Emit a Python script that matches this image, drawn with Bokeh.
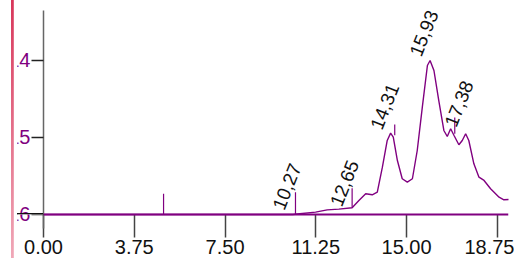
from bokeh.plotting import figure
from bokeh.models import Range1d, FixedTicker, Span, ColumnDataSource, InlineStyleSheet
from bokeh.core.properties import value
from bokeh.embed import file_html
from bokeh.resources import INLINE

# ---- data ----
x_ticks = [0, 3.75, 7.5, 11.25, 15, 18.75]
x_tick_labels = ["0.00", "3.75", "7.50", "11.25", "15.00", "18.75"]
y_ticks = [14, 15, 16]
y_tick_labels = ["14", "15", "16"]

rt = [0, 10.3, 10.48, 11.24, 11.72, 12.2, 12.75, 13.03, 13.31, 13.58, 13.79,
      14.0, 14.2, 14.34, 14.45, 14.62, 14.82, 15.03, 15.24, 15.44, 15.65,
      15.86, 15.97, 16.13, 16.33, 16.54, 16.68, 16.82, 16.96, 17.16, 17.3,
      17.44, 17.57, 17.78, 17.99, 18.2, 18.47, 18.82, 19.02, 19.23]
signal = [16.0, 16.0, 15.994, 15.97, 15.94, 15.93, 15.913, 15.818, 15.731, 15.744, 15.71,
          15.386, 15.039, 14.944, 14.996, 15.299, 15.536, 15.58, 15.536, 15.169, 14.606,
          14.065, 14.0, 14.13, 14.52, 14.909, 14.987, 14.887, 14.974, 15.095, 15.039,
          14.952, 15.039, 15.342, 15.516, 15.558, 15.666, 15.775, 15.809, 15.805]
baseline_level = 16.0

marker_rt = [4.96, 10.41, 12.75, 14.51, 16.99]
marker_top = [15.73, 15.71, 15.66, 14.83, 14.74]
marker_base = [16.0, 16.0, 15.91, 14.97, 14.95]

peak_labels = ["10,27", "12,65", "14,31", "15,93", "17,38"]
peak_rt = [10.27, 12.65, 14.31, 15.93, 17.38]
label_y = [15.925, 15.882, 14.886, 13.934, 14.85]

# ---- figure ----
W, H = 514, 258
css = InlineStyleSheet(css="""
:host {
  background:
    linear-gradient(#111111, #111111) no-repeat 17px 213px / 26px 1.6px,
    linear-gradient(to bottom, #d8365a, #f0a8b8) no-repeat 10.5px 0 / 2.8px 100%,
    #ffffff;
}
.bk-Canvas {
  clip-path: polygon(17.3px 0, 100% 0, 100% 100%, 17.3px 100%, 17.3px 214.6px,
                     43px 214.6px, 43px 213px, 17.3px 213px);
}
""")

p = figure(width=W, height=H, output_backend="svg", toolbar_location=None,
           x_range=Range1d(0, 19.21), y_range=Range1d(16.182, 13.351),
           min_border_left=43, min_border_right=6, min_border_top=10, min_border_bottom=30,
           stylesheets=[css])
p.outline_line_color = None
p.grid.visible = False
p.background_fill_color = "white"
p.border_fill_color = "white"

FONT = "Liberation Sans"
PURPLE = "#800080"

xa = p.xaxis[0]
xa.ticker = FixedTicker(ticks=x_ticks)
xa.major_label_overrides = {t: l for t, l in zip(x_ticks, x_tick_labels)}
xa.axis_line_color = None
xa.major_tick_in = 14
xa.major_tick_out = 9
xa.major_tick_line_color = "#444444"
xa.major_tick_line_width = 1.5
xa.minor_tick_line_color = None
xa.major_label_text_font = FONT
xa.major_label_text_font_size = "20px"
xa.major_label_text_color = "#111111"
xa.major_label_standoff = 2

ya = p.yaxis[0]
ya.ticker = FixedTicker(ticks=y_ticks)
ya.major_label_overrides = {t: l for t, l in zip(y_ticks, y_tick_labels)}
ya.axis_line_color = "#666666"
ya.axis_line_width = 1.5
ya.major_tick_in = 0
ya.major_tick_out = 12
ya.major_tick_line_color = "#222222"
ya.major_tick_line_width = 1.5
ya.minor_tick_line_color = None
ya.major_label_text_font = FONT
ya.major_label_text_font_size = "20px"
ya.major_label_text_color = PURPLE
ya.major_label_standoff = 1

# baseline
p.add_layout(Span(location=baseline_level, dimension="width", line_color=PURPLE, line_width=2))

# chromatogram
p.line(rt, signal, line_color=PURPLE, line_width=1.4)

# peak markers
p.segment(x0=marker_rt, y0=marker_base, x1=marker_rt, y1=marker_top, line_color=PURPLE, line_width=1.2)

# peak labels
src = ColumnDataSource(dict(x=peak_rt, y=label_y, t=peak_labels))
p.text(x="x", y="y", text="t", source=src, angle=1.19, x_offset=-14,
       text_align="left", text_baseline="middle",
       text_font=value(FONT), text_font_size="19px", text_color="#111111")

open("out.html", "w").write(file_html(p, INLINE))
